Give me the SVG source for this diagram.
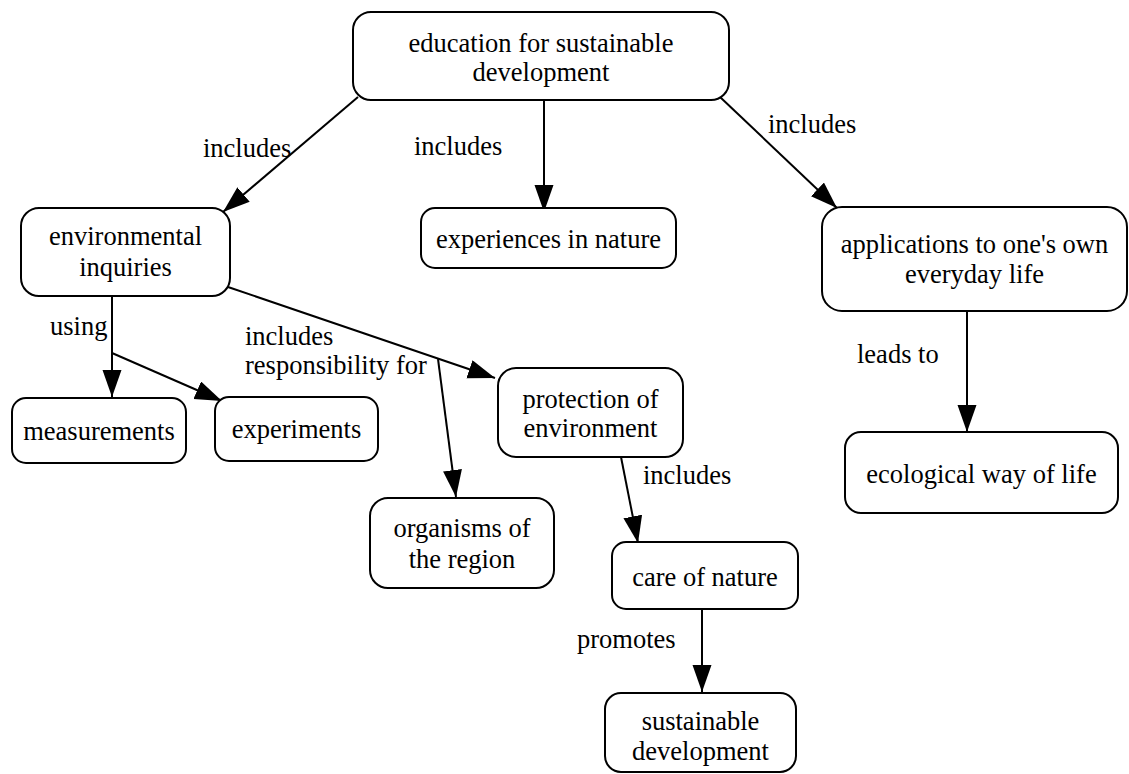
<svg xmlns="http://www.w3.org/2000/svg" width="1129" height="774" viewBox="0 0 1129 774">
<style>
.node rect{fill:#fff;stroke:#000;stroke-width:2}
text{font-family:"Liberation Serif","Times New Roman",serif;font-size:26.5px;fill:#000}
.node text{text-anchor:middle}
.edges line{stroke:#000;stroke-width:2}
</style>
<defs>
<marker id="ah" markerUnits="userSpaceOnUse" markerWidth="28" markerHeight="20" refX="27" refY="9.5" orient="auto">
<path d="M0,0 L27,9.5 L0,19 z" fill="#000"/>
</marker>
</defs>
<rect width="1129" height="774" fill="#fff"/>
<g class="edges">
<line x1="358" y1="97" x2="223" y2="212" marker-end="url(#ah)"/>
<line x1="544" y1="100" x2="544" y2="212" marker-end="url(#ah)"/>
<line x1="720" y1="97" x2="837" y2="208" marker-end="url(#ah)"/>
<line x1="112" y1="296" x2="112" y2="397" marker-end="url(#ah)"/>
<line x1="112" y1="353" x2="222" y2="401" marker-end="url(#ah)"/>
<line x1="228" y1="287" x2="495" y2="378" marker-end="url(#ah)"/>
<line x1="438" y1="359" x2="456" y2="497" marker-end="url(#ah)"/>
<line x1="621" y1="457" x2="638" y2="543" marker-end="url(#ah)"/>
<line x1="702" y1="609" x2="702" y2="692" marker-end="url(#ah)"/>
<line x1="967" y1="311" x2="967" y2="432" marker-end="url(#ah)"/>
<text x="203" y="157">includes</text>
<text x="414" y="155">includes</text>
<text x="768" y="133">includes</text>
<text x="50" y="335">using</text>
<text x="245" y="345">includes</text>
<text x="245" y="374">responsibility for</text>
<text x="643" y="484">includes</text>
<text x="577" y="648">promotes</text>
<text x="857" y="363">leads to</text>
</g>
<g id="n_edu" class="node"><rect x="353" y="12" width="376" height="88" rx="18"/><text x="541" y="52">education for sustainable</text><text x="541" y="81">development</text></g>
<g id="n_env" class="node"><rect x="21" y="208" width="209" height="88" rx="18"/><text x="125.5" y="245">environmental</text><text x="125.5" y="276">inquiries</text></g>
<g id="n_exn" class="node"><rect x="421" y="208" width="255" height="60" rx="14"/><text x="548.5" y="248">experiences in nature</text></g>
<g id="n_app" class="node"><rect x="822" y="207" width="305" height="104" rx="20"/><text x="974.5" y="253">applications to one's own</text><text x="974.5" y="283">everyday life</text></g>
<g id="n_meas" class="node"><rect x="12" y="398" width="174" height="65" rx="14"/><text x="99" y="440">measurements</text></g>
<g id="n_expt" class="node"><rect x="215" y="397" width="163" height="64" rx="14"/><text x="296.5" y="438">experiments</text></g>
<g id="n_prot" class="node"><rect x="498" y="368" width="185" height="89" rx="18"/><text x="590.5" y="408">protection of</text><text x="590.5" y="437">environment</text></g>
<g id="n_org" class="node"><rect x="370" y="498" width="184" height="90" rx="18"/><text x="462" y="537">organisms of</text><text x="462" y="568">the region</text></g>
<g id="n_care" class="node"><rect x="612" y="542" width="186" height="67" rx="14"/><text x="705" y="586">care of nature</text></g>
<g id="n_eco" class="node"><rect x="845" y="432" width="273" height="81" rx="16"/><text x="981.5" y="483">ecological way of life</text></g>
<g id="n_sd" class="node"><rect x="605" y="693" width="191" height="79" rx="16"/><text x="700.5" y="730">sustainable</text><text x="700.5" y="760">development</text></g>
</svg>
